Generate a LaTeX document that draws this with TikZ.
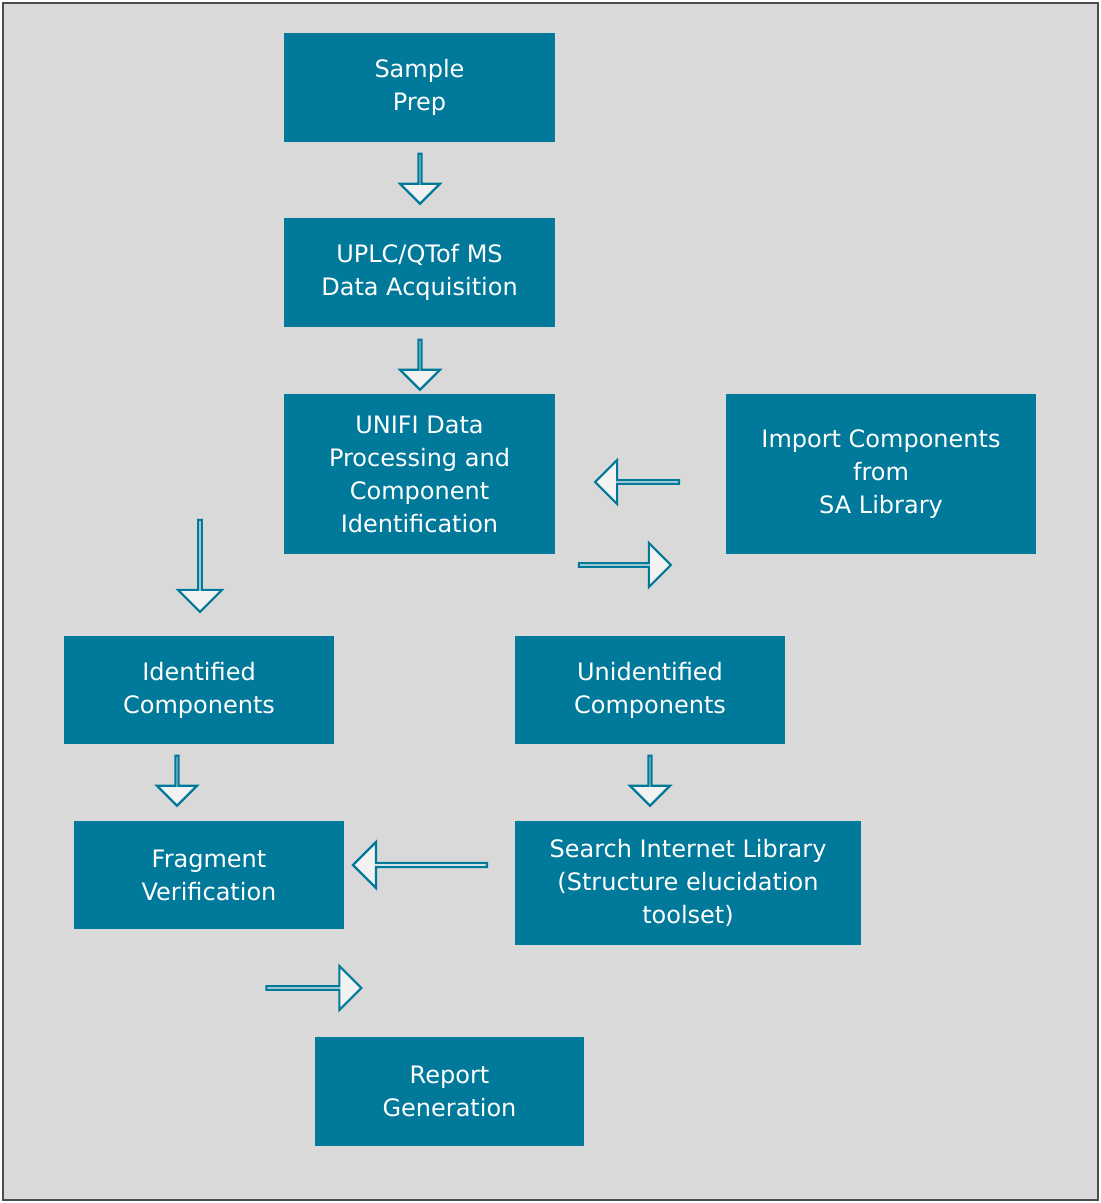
\documentclass[tikz,border=0pt]{standalone}
\usepackage{fontspec}
\setmainfont{DejaVu Sans}
\usetikzlibrary{shapes.arrows}
\definecolor{teal1}{HTML}{00799A}
\definecolor{bg}{HTML}{D9D9D9}
\definecolor{arrfill}{HTML}{F2F2F2}
\begin{document}
\begin{tikzpicture}[x=1pt,y=-1pt,
  box/.style={fill=teal1,draw=none,text=white,align=center,inner sep=0pt,
    font=\fontsize{24}{33}\selectfont},
  blk/.style={single arrow,draw=teal1,line width=2.2pt,fill=arrfill,inner sep=0pt,
    minimum width=#1,single arrow head extend=14pt},
  blk/.default=44pt]
\useasboundingbox (0,0) rectangle (1101,1203);
\draw[fill=bg,draw=black!70,line width=1.5pt] (3,3) rectangle (1098,1200);
\newcommand\bx[6]{\node[box,minimum width=#4-#2,minimum height=#5-#3] (#1) at ({(#2+#4)/2},{(#3+#5)/2}) {#6};}
\bx{sp}{284}{33}{555}{142}{Sample\\Prep}
\bx{up}{284}{218}{555}{327}{UPLC/QTof MS\\Data Acquisition}
\bx{un}{284}{394}{555}{554}{UNIFI Data\\Processing and\\Component\\Identification}
\bx{im}{726}{394}{1036}{554}{Import Components\\from\\SA Library}
\bx{id}{64}{636}{334}{744}{Identified\\Components}
\bx{ud}{515}{636}{785}{744}{Unidentified\\Components}
\bx{fv}{74}{821}{344}{929}{Fragment\\Verification}
\bx{si}{515}{821}{861}{945}{Search Internet Library\\(Structure elucidation\\toolset)}
\bx{rg}{315}{1037}{584}{1146}{Report\\Generation}
\node[blk=40pt,minimum height=50pt,shape border rotate=270] (a1) at (420,178) {};
\node[blk=40pt,minimum height=50pt,shape border rotate=270] (a2) at (420,364) {};
\node[blk=44pt,minimum height=84pt,shape border rotate=180,single arrow head extend=13pt] (a3) at (638,482) {};
\node[blk=44pt,minimum height=92pt,shape border rotate=225,single arrow head extend=13pt] (a4) at (200,565) {};
\node[blk=44pt,minimum height=92pt,shape border rotate=315,single arrow head extend=13pt] (a5) at (624,565) {};
\node[blk=40pt,minimum height=50pt,shape border rotate=270] (a6) at (177,780) {};
\node[blk=40pt,minimum height=50pt,shape border rotate=270] (a7) at (650,780) {};
\node[blk=46pt,minimum height=134pt,shape border rotate=180,single arrow head extend=12pt] (a8) at (421,865) {};
\node[blk=44pt,minimum height=95pt,shape border rotate=315,single arrow head extend=13pt] (a9) at (313,988) {};
\end{tikzpicture}
\end{document}
